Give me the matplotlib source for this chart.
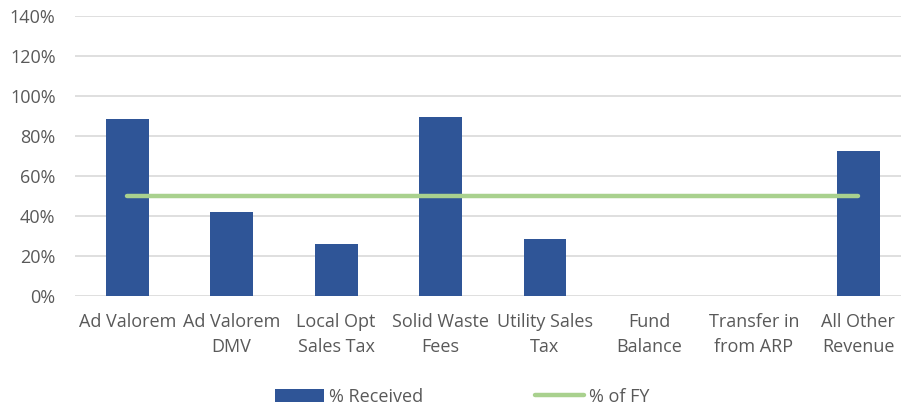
import matplotlib.pyplot as plt
import numpy as np
from matplotlib.ticker import PercentFormatter

categories = ["Ad Valorem", "Ad Valorem\nDMV", "Local Opt\nSales Tax", "Solid Waste\nFees",
              "Utility Sales\nTax", "Fund\nBalance", "Transfer in\nfrom ARP", "All Other\nRevenue"]
pct_received = [88.5, 42, 26, 89.5, 28.5, 0, 0, 72.5]
pct_of_fy = [50, 50, 50, 50, 50, 50, 50, 50]
y_ticks = [0, 20, 40, 60, 80, 100, 120, 140]

TEXT = "#595959"
plt.rcParams["font.family"] = ["Open Sans", "DejaVu Sans"]

fig = plt.figure(figsize=(9.01, 4.08), dpi=100)
ax = fig.add_axes([75 / 901, 112 / 408, 835.5 / 901, 280 / 408])

x = np.arange(len(categories))
bars = ax.bar(x, pct_received, width=0.41, color="#2F5597", zorder=2, label="% Received")
line, = ax.plot(x, pct_of_fy, color="#A9D18E", lw=3.2, solid_capstyle="round", zorder=3, label="% of FY")

ax.set_xlim(-0.5, len(categories) - 0.5)
ax.set_ylim(0, 140)
ax.set_yticks(y_ticks)
ax.yaxis.set_major_formatter(PercentFormatter(decimals=0))
ax.set_xticks(x)
ax.set_xticklabels(categories, linespacing=1.55)
ax.grid(axis="y", color="#D9D9D9", lw=1.2, zorder=0)
for s in ax.spines.values():
    s.set_visible(False)
ax.tick_params(length=0, labelsize=13, colors=TEXT)
ax.tick_params(axis="x", pad=12)
ax.tick_params(axis="y", pad=14)

fig.legend([bars, line], ["% Received", "% of FY"], loc="center", bbox_to_anchor=(0.513, 0.028),
           ncol=2, frameon=False, fontsize=13, labelcolor=TEXT, columnspacing=6.2,
           handlelength=2.7, handleheight=0.7, handletextpad=0.3)

fig.savefig("out.png", dpi=100)
